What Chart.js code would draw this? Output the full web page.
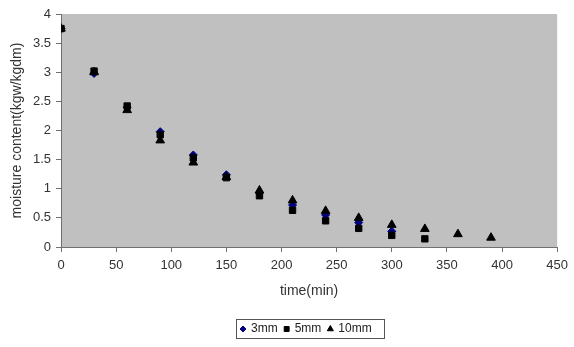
<!DOCTYPE html>
<html>
<head>
<meta charset="utf-8">
<script src="https://cdn.jsdelivr.net/npm/chart.js@4"></script>
<style>
  html, body { margin: 0; padding: 0; background: #fff; }
  #wrap { width: 574px; height: 347px; }
</style>
</head>
<body>
<div id="wrap"><canvas id="dryingChart" width="574" height="347"></canvas></div>
<script>
// Drying curves
const timeMin = [0, 30, 60, 90, 120, 150, 180, 210, 240, 270, 300, 330, 360, 390];
const mc3mm = [3.75, 2.98, 2.40, 1.98, 1.58, 1.24, 0.93, 0.72, 0.55, 0.42, 0.27];
const mc5mm = [3.75, 3.02, 2.42, 1.93, 1.53, 1.19, 0.88, 0.63, 0.45, 0.32, 0.20, 0.14];
const mc10mm = [3.75, 3.00, 2.35, 1.83, 1.45, 1.20, 0.97, 0.80, 0.62, 0.50, 0.38, 0.31, 0.22, 0.16];
const xTicks = [0, 50, 100, 150, 200, 250, 300, 350, 400, 450];
const yTicks = [0, 0.5, 1, 1.5, 2, 2.5, 3, 3.5, 4];

const FONT = '"Liberation Sans", Arial, sans-serif';

function toPoints(vals) {
    return vals.map((v, i) => ({ x: timeMin[i], y: v }));
}

const series = [
    { label: '3mm', data: mc3mm, style: 'rectRot', color: '#000080', radius: 4, order: 3 },
    { label: '5mm', data: mc5mm, style: 'rect', color: '#000000', radius: 4.5, order: 2 },
    { label: '10mm', data: mc10mm, style: 'triangle', color: '#000000', radius: 5, order: 1 }
];

// grey plot area like the old spreadsheet chart
const plotBg = {
    id: 'plotBg',
    beforeDraw(chart) {
        const { ctx, chartArea: a } = chart;
        ctx.save();
        ctx.fillStyle = '#c0c0c0';
        ctx.fillRect(a.left, a.top, a.right - a.left, a.bottom - a.top);
        ctx.restore();
    }
};

// boxed legend under the axis title
const boxLegend = {
    id: 'boxLegend',
    afterDraw(chart) {
        const ctx = chart.ctx;
        const x0 = 236, y0 = 319, w = 148, h = 19;
        ctx.save();
        ctx.fillStyle = '#fff';
        ctx.fillRect(x0, y0, w, h);
        ctx.strokeStyle = '#555';
        ctx.lineWidth = 1;
        ctx.strokeRect(x0 + 0.5, y0 + 0.5, w, h);
        ctx.font = '12px ' + FONT;
        ctx.textBaseline = 'middle';
        let x = x0 + 7;
        const cy = y0 + h / 2 + 0.5;
        series.forEach(s => {
            ctx.fillStyle = s.color;
            ctx.strokeStyle = s.color;
            Chart.helpers.drawPoint(ctx, { pointStyle: s.style, radius: s.style === 'rectRot' ? 3 : 3.5, rotation: 0, borderWidth: 1 }, x, cy);
            ctx.fillStyle = '#222';
            ctx.fillText(s.label, x + 8, cy);
            x += 8 + ctx.measureText(s.label).width + 9;
        });
        ctx.restore();
    }
};

new Chart(document.getElementById('dryingChart'), {
    type: 'scatter',
    data: {
        datasets: series.map(s => ({
            label: s.label,
            data: toPoints(s.data),
            pointStyle: s.style,
            pointRadius: s.radius,
            pointHoverRadius: s.radius,
            backgroundColor: s.color,
            borderColor: s.color,
            borderWidth: 1,
            order: s.order
        }))
    },
    options: {
        responsive: false,
        animation: false,
        layout: { padding: { left: 9, top: 14, right: 12, bottom: 46 } },
        plugins: {
            legend: { display: false },
            tooltip: { enabled: false }
        },
        scales: {
            x: {
                type: 'linear',
                min: 0,
                max: 450,
                afterBuildTicks: sc => { sc.ticks = xTicks.map(v => ({ value: v })); },
                afterFit: sc => { sc.height = 54; },
                grid: { drawOnChartArea: false, color: '#707070', tickLength: 5 },
                border: { color: '#707070' },
                ticks: { color: '#333', padding: 6, callback: v => String(v), font: { size: 13, family: FONT } },
                title: { display: true, text: 'time(min)', color: '#333', padding: { top: 0, bottom: 1 }, font: { size: 14, family: FONT } }
            },
            y: {
                min: 0,
                max: 4,
                afterBuildTicks: sc => { sc.ticks = yTicks.map(v => ({ value: v })); },
                afterFit: sc => { sc.width = 52; },
                grid: { drawOnChartArea: false, color: '#707070', tickLength: 5 },
                border: { color: '#707070' },
                ticks: { color: '#333', padding: 5, callback: v => String(v), font: { size: 13, family: FONT } },
                title: { display: true, text: 'moisture content(kgw/kgdm)', color: '#333', padding: { top: 0, bottom: 0 }, font: { size: 14, family: FONT } }
            }
        }
    },
    plugins: [plotBg, boxLegend]
});
</script>
</body>
</html>
